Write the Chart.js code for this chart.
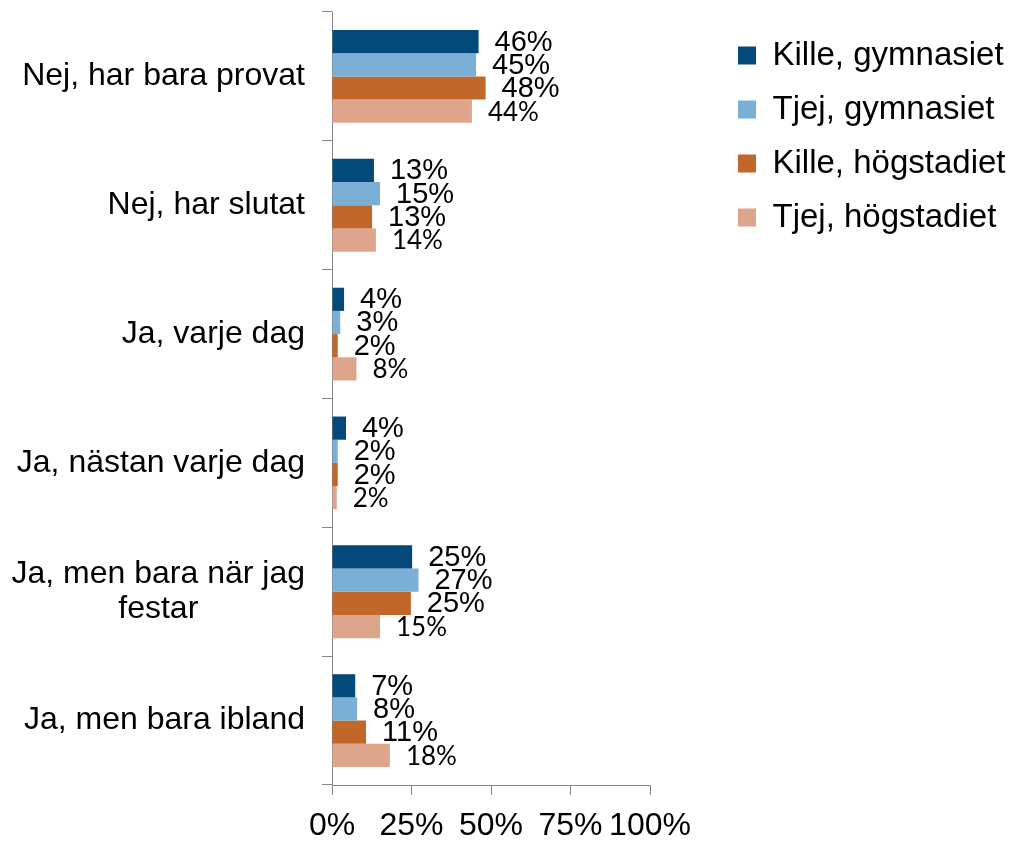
<!DOCTYPE html>
<html lang="sv">
<head>
<meta charset="utf-8">
<title>Snusar du?</title>
<script src="https://cdn.jsdelivr.net/npm/chart.js@4.4.0/dist/chart.umd.min.js"></script>
<style>
  html, body { margin: 0; padding: 0; background: #fff; }
  #wrap { width: 1019px; height: 845px; }
</style>
</head>
<body>
<div id="wrap"><canvas id="chart" width="1019" height="845"></canvas></div>
<script>
// --- Kategorier (y-axeln) ---
// "festar" får avslutande mellanslag så att raden hamnar centrerad under första raden
const categories = [
    'Nej, har bara provat',
    'Nej, har slutat',
    'Ja, varje dag',
    'Ja, nästan varje dag',
    ['Ja, men bara när jag', 'festar            '],
    'Ja, men bara ibland'
];

const seriesNames = ['Kille, gymnasiet', 'Tjej, gymnasiet', 'Kille, högstadiet', 'Tjej, högstadiet'];

// --- Värden i procent, avlästa från staplarna ---
const killeGymnasiet  = [46.1, 13.2, 3.8, 4.4, 25.2, 7.3];
const tjejGymnasiet   = [45.3, 15.1, 2.6, 1.8, 27.2, 7.9];
const killeHogstadiet = [48.3, 12.6, 1.8, 1.8, 24.8, 10.7];
const tjejHogstadiet  = [44.0, 13.8, 7.7, 1.5, 15.1, 18.2];

const xTicks = [0, 25, 50, 75, 100];

const colors = ['#03497a', '#7bafd6', '#c1672a', '#dda58c'];
const axisColor = '#868686';
const arial = "'Liberation Sans', Arial, sans-serif";

// sista serien har etiketter i ett annat typsnitt i originalet
const labelFonts = [
    `29px ${arial}`,
    `29px ${arial}`,
    `29px ${arial}`,
    "26px Lato, 'Noto Sans', sans-serif"
];

const allSeries = [killeGymnasiet, tjejGymnasiet, killeHogstadiet, tjejHogstadiet];

// --- Plugin: procentetiketter till höger om staplarna ---
const valueLabels = {
    id: 'valueLabels',
    afterDatasetsDraw(chart) {
        const ctx = chart.ctx;
        chart.data.datasets.forEach((ds, i) => {
            const meta = chart.getDatasetMeta(i);
            ctx.save();
            ctx.font = labelFonts[i];
            ctx.fillStyle = '#000';
            ctx.textAlign = 'left';
            ctx.textBaseline = 'middle';
            meta.data.forEach((bar, j) => {
                ctx.fillText(Math.round(ds.data[j]) + '%', bar.x + 16, bar.y + 1);
            });
            ctx.restore();
        });
    }
};

// --- Plugin: lämnar luft mellan diagramytan och förklaringen ---
const legendPlacement = {
    id: 'legendPlacement',
    beforeInit(chart) {
        const fit = chart.legend.fit;
        chart.legend.fit = function () {
            fit.call(this);
            this.width = 369;
        };
    },
    afterLayout(chart) {
        chart.legend.left = 717;
        chart.legend.top = 18;
    }
};

new Chart(document.getElementById('chart'), {
    type: 'bar',
    data: {
        labels: categories,
        datasets: allSeries.map((values, i) => ({
            label: seriesNames[i],
            data: values,
            backgroundColor: colors[i],
            borderWidth: 0,
            categoryPercentage: 0.72,
            barPercentage: 1
        }))
    },
    options: {
        indexAxis: 'y',
        responsive: false,
        animation: false,
        devicePixelRatio: 1,
        layout: { padding: { top: 12, left: 0, right: 0, bottom: 0 } },
        plugins: {
            legend: {
                position: 'right',
                align: 'start',
                labels: {
                    font: { family: arial, size: 33 },
                    color: '#000',
                    boxWidth: 18,
                    boxHeight: 18,
                    padding: 21
                }
            },
            tooltip: { enabled: false }
        },
        scales: {
            x: {
                min: 0,
                max: 100,
                afterBuildTicks: scale => { scale.ticks = xTicks.map(v => ({ value: v })); },
                afterFit: scale => { scale.height = 60; },
                grid: { drawOnChartArea: false, tickLength: 10, color: axisColor },
                border: { color: axisColor },
                ticks: {
                    padding: 12,
                    color: '#000',
                    font: { family: arial, size: 32 },
                    autoSkip: false,
                    maxRotation: 0,
                    callback: v => v + '%'
                }
            },
            y: {
                afterFit: scale => {
                    scale.width = 332;
                    scale.paddingTop = 0;
                    scale.paddingBottom = 0;
                },
                grid: { drawOnChartArea: false, tickLength: 10, color: axisColor, offset: true },
                border: { color: axisColor },
                ticks: {
                    padding: 17,
                    color: '#000',
                    font: { family: arial, size: 32, lineHeight: 1.1 }
                }
            }
        }
    },
    plugins: [valueLabels, legendPlacement]
});
</script>
</body>
</html>
